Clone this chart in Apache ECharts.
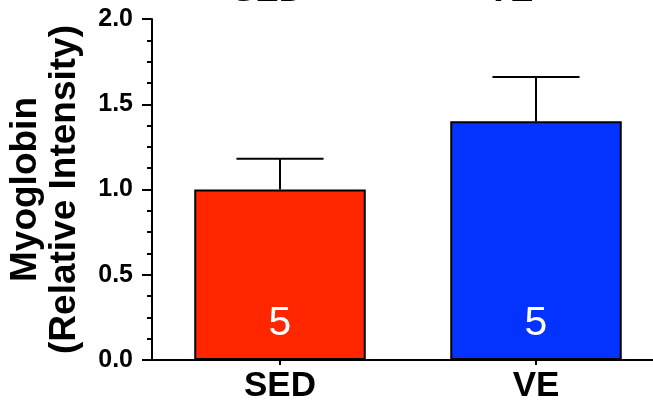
<!DOCTYPE html>
<html>
<head>
<meta charset="utf-8">
<style>
  html, body { margin: 0; padding: 0; background: #fff; }
  #chart { width: 653px; height: 406px; }
</style>
<script src="https://cdn.jsdelivr.net/npm/echarts@6/dist/echarts.min.js"></script>
</head>
<body>
<div id="chart"></div>
<script>
// Groups and measurements
const categories = ['SED', 'VE'];
const means = [1.0, 1.4];
const errorTops = [1.18, 1.66];   // mean + SEM
const sampleSizes = [5, 5];
const barColors = ['#FF2600', '#0433FF'];
const yTicks = { min: 0, max: 2, step: 0.5 };

const FONT = 'Arial, "Liberation Sans", Helvetica, sans-serif';

const chart = echarts.init(document.getElementById('chart'), null, { renderer: 'canvas' });

const barData = means.map((v, i) => ({
  value: v,
  itemStyle: { color: barColors[i] },
  label: { formatter: String(sampleSizes[i]) }
}));

const errData = means.map((v, i) => [i, v, errorTops[i]]);

const option = {
  animation: false,
  backgroundColor: '#fff',
  grid: { left: 152, top: 19, width: 512, height: 341, outerBoundsMode: 'none', containLabel: false },
  xAxis: {
    type: 'category',
    data: categories,
    axisLine: { lineStyle: { color: '#000', width: 2 } },
    axisTick: { show: true, alignWithLabel: true, length: 5, lineStyle: { color: '#000', width: 2 } },
    axisLabel: { color: '#000', fontFamily: FONT, fontWeight: 'bold', fontSize: 35, margin: 9 }
  },
  yAxis: {
    type: 'value',
    min: yTicks.min,
    max: yTicks.max,
    interval: yTicks.step,
    name: 'Myoglobin\n(Relative Intensity)',
    nameLocation: 'middle',
    nameGap: 68,
    nameTextStyle: { color: '#000', fontFamily: FONT, fontWeight: 'bold', fontSize: 37, lineHeight: 39 },
    axisLine: { show: true, lineStyle: { color: '#000', width: 2 } },
    axisTick: { show: true, length: 10, lineStyle: { color: '#000', width: 2 } },
    minorTick: { show: true, splitNumber: 4, length: 5, lineStyle: { color: '#000', width: 2 } },
    splitLine: { show: false },
    axisLabel: {
      color: '#000', fontFamily: FONT, fontWeight: 'bold', fontSize: 25, margin: 19,
      formatter: v => v.toFixed(1)
    }
  },
  // Group headers running off the top edge
  graphic: [
    { type: 'text', x: 268, y: 8.5, style: { text: categories[0], fill: '#000', font: 'bold 35px ' + FONT, textAlign: 'center', textVerticalAlign: 'bottom' } },
    { type: 'text', x: 510, y: 8.5, style: { text: categories[1], fill: '#000', font: 'bold 35px ' + FONT, textAlign: 'center', textVerticalAlign: 'bottom' } }
  ],
  series: [
    {
      type: 'bar',
      data: barData,
      barWidth: '67%',
      itemStyle: { borderColor: '#000', borderWidth: 2 },
      label: {
        show: true,
        position: 'insideBottom',
        distance: 16,
        color: '#fff',
        fontFamily: FONT,
        fontSize: 41
      },
      z: 2
    },
    {
      type: 'custom',
      data: errData,
      z: 3,
      renderItem: (params, api) => {
        const x = api.value(0);
        const base = api.coord([x, api.value(1)]);
        const top = api.coord([x, api.value(2)]);
        const half = api.size([1, 0])[0] * 0.17;
        const style = { stroke: '#000', lineWidth: 2 };
        return {
          type: 'group',
          children: [
            { type: 'line', shape: { x1: base[0], y1: base[1], x2: top[0], y2: top[1] }, style },
            { type: 'line', shape: { x1: top[0] - half, y1: top[1], x2: top[0] + half, y2: top[1] }, style }
          ]
        };
      }
    }
  ]
};

chart.setOption(option);
</script>
</body>
</html>
